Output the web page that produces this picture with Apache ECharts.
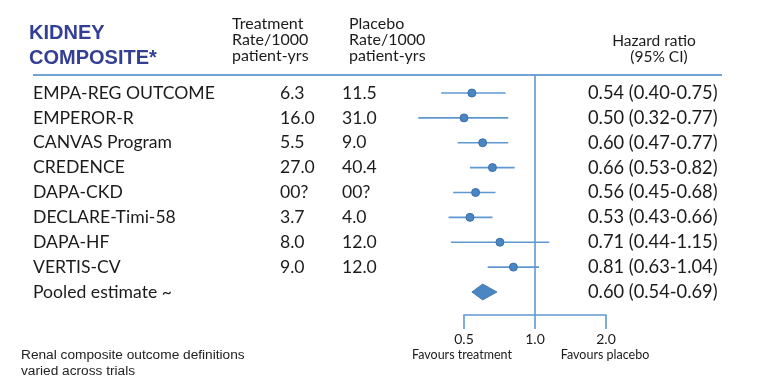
<!DOCTYPE html>
<html>
<head>
<meta charset="utf-8">
<script src="https://cdn.jsdelivr.net/npm/echarts@6/dist/echarts.min.js"></script>
<style>
html,body{margin:0;padding:0;background:#fff;}
#chart{width:765px;height:380px;}
</style>
</head>
<body>
<div id="chart"></div>
<script>
const trials = ['EMPA-REG OUTCOME','EMPEROR-R','CANVAS Program','CREDENCE','DAPA-CKD','DECLARE-Timi-58','DAPA-HF','VERTIS-CV','Pooled estimate ~'];
const treatmentRate = ['6.3','16.0','5.5','27.0','00?','3.7','8.0','9.0',''];
const placeboRate = ['11.5','31.0','9.0','40.4','00?','4.0','12.0','12.0',''];
const hazardRatio = [0.54,0.50,0.60,0.66,0.56,0.53,0.71,0.81,0.60];
const ciLow = [0.40,0.32,0.47,0.53,0.45,0.43,0.44,0.63,0.54];
const ciHigh = [0.75,0.77,0.77,0.82,0.68,0.66,1.15,1.04,0.69];
const axisTicks = ['0.5','1.0','2.0'];
const pooledIndex = 8;

const BLUE = '#5f98d0';
const DOT = '#4a86c4';
const DOT_EDGE = '#3b70a8';
const TXT = '#1b1b1b';
const CAL = 'Lato, "Open Sans", sans-serif';

const chart = echarts.init(document.getElementById('chart'), null, {renderer:'canvas'});

const forestData = hazardRatio.map((v,i)=>[v, i, ciLow[i], ciHigh[i]]);
const tableData = trials.map((t,i)=>[1, i]);

function fmtHR(i){
  return hazardRatio[i].toFixed(2)+' ('+ciLow[i].toFixed(2)+'-'+ciHigh[i].toFixed(2)+')';
}

const option = {
  backgroundColor:'#ffffff',
  animation:false,
  grid:[
    {left:393, right:159, top:75, bottom:65},
    {left:464, right:159, top:314, height:1}
  ],
  xAxis:[
    {gridIndex:0, type:'log', logBase:2, min:0.25, max:2, show:false},
    {gridIndex:1, type:'log', logBase:2, min:0.5, max:2,
     axisLine:{show:true, lineStyle:{color:BLUE, width:1.6}},
     axisTick:{show:true, length:14, lineStyle:{color:BLUE, width:1.6}},
     splitLine:{show:false},
     axisLabel:{show:true, margin:17, color:TXT, fontFamily:CAL, fontSize:14,
       formatter:function(v){
         const lbl = axisTicks.find(t=>Math.abs(parseFloat(t)-v)<1e-6);
         return lbl || '';
       }}
    }
  ],
  yAxis:[
    {gridIndex:0, type:'value', inverse:true, min:-0.724, max:8.926, show:false},
    {gridIndex:1, type:'value', show:false}
  ],
  graphic:[
    {type:'line', shape:{x1:33,y1:75,x2:722,y2:75}, style:{stroke:'#6fa3d6', lineWidth:2}, silent:true},
    {type:'text', style:{text:'KIDNEY', x:29, y:33, fill:'#333f93', font:'bold 20px "Liberation Sans", Arial, sans-serif', verticalAlign:'middle'}},
    {type:'text', style:{text:'COMPOSITE*', x:29, y:58, fill:'#333f93', font:'bold 20px "Liberation Sans", Arial, sans-serif', verticalAlign:'middle'}},
    {type:'text', style:{text:'Treatment\nRate/1000\npatient-yrs', x:232, y:16, fill:TXT, font:'16px '+CAL, lineHeight:16, verticalAlign:'top'}},
    {type:'text', style:{text:'Placebo\nRate/1000\npatient-yrs', x:349, y:16, fill:TXT, font:'16px '+CAL, lineHeight:16, verticalAlign:'top'}},
    {type:'text', style:{text:'Hazard ratio', x:654, y:41, fill:TXT, font:'15.5px '+CAL, align:'center', verticalAlign:'middle'}},
    {type:'text', style:{text:'(95% CI)', x:659, y:57, fill:TXT, font:'15.5px '+CAL, align:'center', verticalAlign:'middle'}},
    {type:'text', style:{text:'Favours treatment', x:462, y:355, fill:TXT, font:'12.5px '+CAL, align:'center', verticalAlign:'middle'}},
    {type:'text', style:{text:'Favours placebo', x:605, y:355, fill:TXT, font:'12.5px '+CAL, align:'center', verticalAlign:'middle'}},
    {type:'text', style:{text:'Renal composite outcome definitions\nvaried across trials', x:21, y:347, fill:'#222', font:'13.7px "Liberation Sans", Arial, sans-serif', lineHeight:16, verticalAlign:'top'}}
  ],
  series:[
    {
      type:'custom', xAxisIndex:0, yAxisIndex:0, clip:false, silent:true,
      data: forestData,
      renderItem:function(params, api){
        const i = api.value(1);
        const p = api.coord([api.value(0), i]);
        const lo = api.coord([api.value(2), i]);
        const hi = api.coord([api.value(3), i]);
        if (i === pooledIndex){
          return {type:'polygon', shape:{points:[[lo[0],p[1]],[p[0],p[1]-8],[hi[0],p[1]],[p[0],p[1]+8]]},
            style:{fill:DOT, stroke:DOT_EDGE, lineWidth:0.8}};
        }
        return {type:'group', children:[
          {type:'line', shape:{x1:lo[0],y1:p[1],x2:hi[0],y2:p[1]}, style:{stroke:BLUE, lineWidth:1.6}},
          {type:'circle', shape:{cx:p[0], cy:p[1], r:4}, style:{fill:DOT, stroke:DOT_EDGE, lineWidth:1}}
        ]};
      },
      markLine:{
        silent:true, symbol:'none', animation:false,
        label:{show:false},
        lineStyle:{color:BLUE, width:1.6, type:'solid'},
        data:[{xAxis:1}]
      }
    },
    {
      type:'custom', xAxisIndex:0, yAxisIndex:0, clip:false, silent:true,
      data: tableData,
      renderItem:function(params, api){
        const i = api.value(1);
        const y = api.coord([1, i])[1];
        const kids = [
          {type:'text', style:{text:trials[i], x:33, y:y, fill:TXT, font:'17.6px '+CAL, verticalAlign:'middle'}},
          {type:'text', style:{text:fmtHR(i), x:588, y:y, fill:TXT, font:'18.3px '+CAL, verticalAlign:'middle'}}
        ];
        if (treatmentRate[i]) kids.push({type:'text', style:{text:treatmentRate[i], x:280, y:y, fill:TXT, font:'17.6px '+CAL, verticalAlign:'middle'}});
        if (placeboRate[i]) kids.push({type:'text', style:{text:placeboRate[i], x:342, y:y, fill:TXT, font:'17.6px '+CAL, verticalAlign:'middle'}});
        return {type:'group', children:kids};
      }
    },
    {type:'scatter', xAxisIndex:1, yAxisIndex:1, data:[], silent:true}
  ]
};
chart.setOption(option);
</script>
</body>
</html>
